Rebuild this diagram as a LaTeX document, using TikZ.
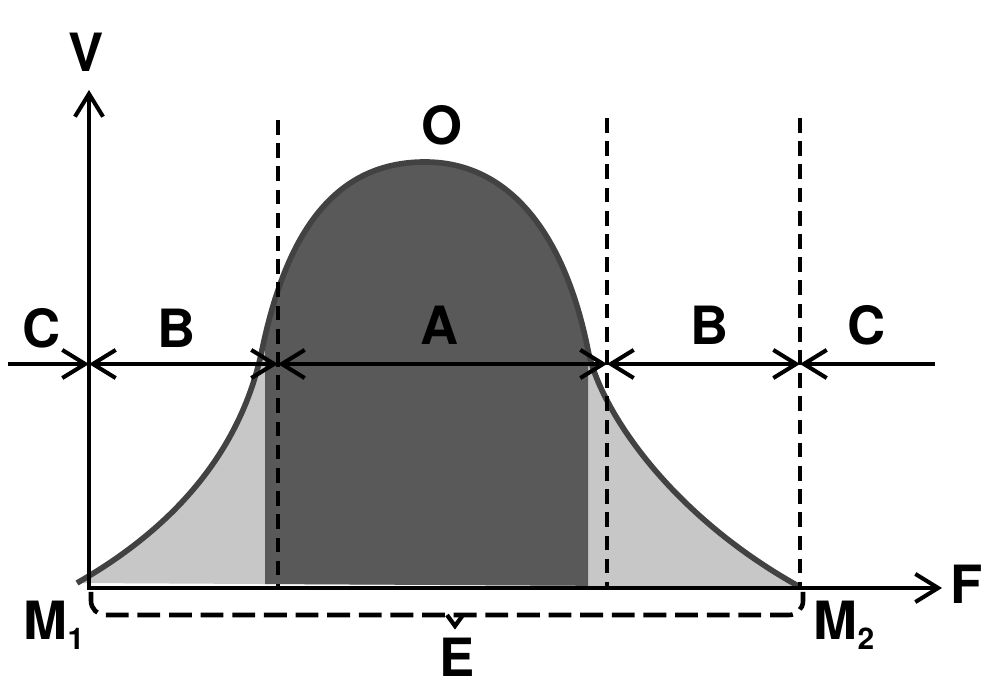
\documentclass[tikz,border=0pt]{standalone}
\usepackage{fontspec}
\setmainfont{TeX Gyre Heros}
\usetikzlibrary{arrows.meta}

\newcommand{\bellcurve}{(0.77,1.02) .. controls (1.70,1.55) and (2.40,2.30) .. (2.62,3.35)
  .. controls (2.85,4.45) and (3.30,5.23) .. (4.25,5.23)
  .. controls (5.10,5.23) and (5.65,4.50) .. (5.88,3.35)
  .. controls (6.00,2.75) and (6.70,1.70) .. (8.00,0.98)}
\newcommand{\lowidx}[1]{\raisebox{-2.8pt}{\fontsize{8.5}{10}\selectfont #1}}

\begin{document}
\begin{tikzpicture}[>={Straight Barb[length=6.5pt,width=8pt]},
  every node/.style={font=\fontsize{15}{18}\selectfont\bfseries, inner sep=0pt},
  axisline/.style={line width=1.15pt},
  dimline/.style={line width=1.15pt},
  guide/.style={line width=1.2pt, dash pattern=on 4.2pt off 2.4pt},
  bracket/.style={line width=1.3pt, dash pattern=on 6.5pt off 2.5pt}]
  \useasboundingbox (0,0) rectangle (10.05,6.85);
  \coordinate (o) at (0.89,0.97);
  \coordinate (vtop) at (0.89,5.95);
  \coordinate (fend) at (9.42,0.97);
  \fill[black!22] \bellcurve -- cycle;
  \begin{scope}
    \clip (2.65,0) rectangle (5.88,6);
    \fill[black!65] \bellcurve -- cycle;
  \end{scope}
  \draw[black!74, line width=1.6pt] \bellcurve;
  \coordinate (g1t) at (2.78,5.65);
  \coordinate (g1b) at (2.78,0.97);
  \coordinate (g2t) at (6.07,5.67);
  \coordinate (g2b) at (6.07,0.97);
  \coordinate (g3t) at (8.00,5.67);
  \coordinate (g3b) at (8.00,0.97);
  \draw[guide] (g1t) -- (g1b);
  \draw[guide] (g2t) -- (g2b);
  \draw[guide] (g3t) -- (g3b);
  \draw[axisline, <->] (vtop) -- (o) -- (fend);
  \coordinate (d0) at (0.08,3.21);
  \coordinate (d1) at (0.89,3.21);
  \coordinate (d2) at (2.78,3.21);
  \coordinate (d3) at (6.07,3.21);
  \coordinate (d4) at (8.00,3.21);
  \coordinate (d5) at (9.35,3.21);
  \draw[dimline, ->] (d0) -- (d1);
  \draw[dimline, <->] (d1) -- (d2);
  \draw[dimline, <->] (d2) -- (d3);
  \draw[dimline, <->] (d3) -- (d4);
  \draw[dimline, ->] (d5) -- (d4);
  \coordinate (bl) at (0.91,0.93);
  \coordinate (br) at (8.03,0.93);
  \coordinate (el) at (4.47,0.70);
  \coordinate (er) at (4.63,0.70);
  \coordinate (etip) at (4.55,0.59);
  \draw[bracket, rounded corners=4pt] (bl) |- (er) -| (br);
  \draw[line width=1.2pt] (el) -- (etip) -- (er);
  \node (vlbl) at (0.86,6.33) {V};
  \node (flbl) at (9.67,1.01) {F};
  \node[anchor=base west] (m1) at (0.23,0.45) {M\lowidx{1}};
  \node[anchor=base west] (m2) at (8.13,0.45) {M\lowidx{2}};
  \node (elbl) at (4.57,0.28) {E};
  \node (olbl) at (4.42,5.60) {O};
  \node (cl) at (0.42,3.57) {C};
  \node (bleft) at (1.77,3.57) {B};
  \node (alab) at (4.40,3.60) {A};
  \node (bright) at (7.10,3.60) {B};
  \node (cr) at (8.67,3.60) {C};
\end{tikzpicture}
\end{document}
